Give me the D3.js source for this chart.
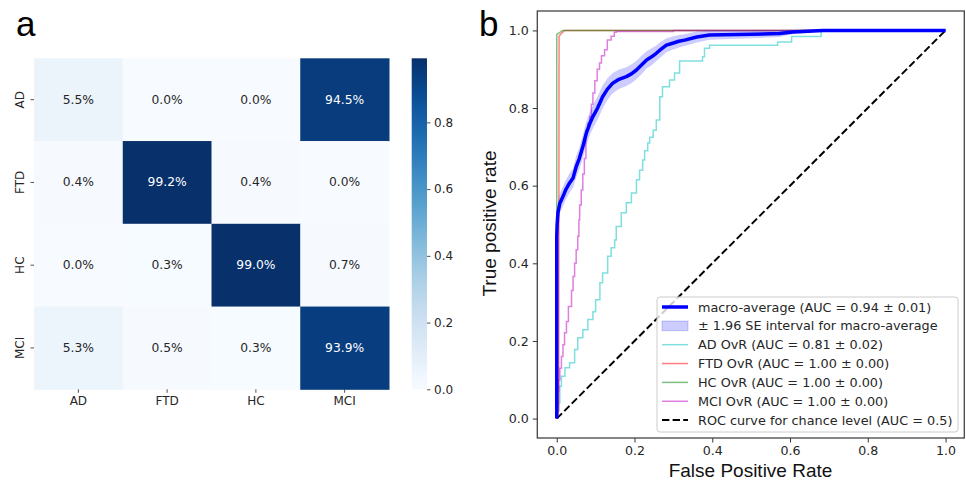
<!DOCTYPE html>
<html><head><meta charset="utf-8">
<script src="https://cdn.jsdelivr.net/npm/d3@7"></script>
<style>body{margin:0;background:#fff}svg{display:block}</style>
</head><body>
<svg id="c" width="966" height="482"></svg>
<script>
// ---------------- DATA ----------------
const classes = ["AD", "FTD", "HC", "MCI"];
const confusion = [
  [0.055, 0.000, 0.000, 0.945],
  [0.004, 0.992, 0.004, 0.000],
  [0.000, 0.003, 0.990, 0.007],
  [0.053, 0.005, 0.003, 0.939]
];
const colorbarTicks = [0.0, 0.2, 0.4, 0.6, 0.8];
const rocTicks = [0.0, 0.2, 0.4, 0.6, 0.8, 1.0];

// macro average: [fpr, tpr, half-width of SE band]
const macroCurve = [
  [0,0,0],[0,0.47,0.015],[0.001,0.5,0.02],[0.003,0.53,0.025],[0.008,0.555,0.025],
  [0.016,0.572,0.025],[0.023,0.589,0.025],[0.033,0.607,0.025],[0.042,0.62,0.025],
  [0.05,0.649,0.028],[0.058,0.67,0.028],[0.067,0.70,0.03],[0.076,0.735,0.03],
  [0.085,0.76,0.03],[0.093,0.778,0.03],[0.105,0.80,0.03],[0.118,0.829,0.03],
  [0.13,0.848,0.028],[0.144,0.864,0.026],[0.16,0.874,0.025],[0.179,0.881,0.024],
  [0.192,0.888,0.024],[0.205,0.898,0.024],[0.218,0.911,0.024],[0.231,0.924,0.022],
  [0.244,0.932,0.022],[0.256,0.941,0.02],[0.265,0.949,0.02],[0.282,0.962,0.018],
  [0.298,0.967,0.017],[0.314,0.972,0.016],[0.329,0.975,0.015],[0.36,0.983,0.014],
  [0.393,0.988,0.012],[0.5,0.99,0.01],[0.573,0.992,0.009],[0.607,0.996,0.006],
  [0.685,1,0.003],[1,1,0.003]
];
const adCurve = [
  [0,0],[0.005,0.02],[0.008,0.041],[0.012,0.083],[0.021,0.109],[0.033,0.131],
  [0.046,0.144],[0.054,0.178],[0.067,0.208],[0.08,0.229],[0.093,0.255],[0.1,0.275],
  [0.111,0.306],[0.118,0.35],[0.131,0.375],[0.14,0.418],[0.149,0.44],[0.153,0.46],
  [0.166,0.495],[0.179,0.53],[0.192,0.556],[0.205,0.581],[0.213,0.615],[0.221,0.64],
  [0.226,0.666],[0.234,0.69],[0.239,0.71],[0.248,0.725],[0.256,0.743],[0.265,0.769],
  [0.272,0.829],[0.29,0.855],[0.303,0.872],[0.316,0.89],[0.332,0.921],[0.375,0.921],
  [0.38,0.932],[0.393,0.954],[0.398,0.962],[0.568,0.962],[0.604,0.97],[0.68,0.984],
  [0.685,1],[1,1]
];
const ftdCurve = [[0,0],[0.005,0.02],[0.006,0.985],[0.01,0.99],[0.02,1],[1,1]];
const hcCurve = [[0,0],[0,0.99],[0.008,0.995],[0.015,1],[1,1]];
const mciCurve = [
  [0,0],[0.003,0.033],[0.005,0.07],[0.008,0.10],[0.012,0.13],[0.016,0.16],[0.02,0.19],
  [0.025,0.221],[0.03,0.25],[0.038,0.289],[0.042,0.33],[0.046,0.366],[0.05,0.4],
  [0.054,0.435],[0.057,0.47],[0.059,0.512],[0.063,0.55],[0.067,0.589],[0.071,0.63],
  [0.075,0.67],[0.08,0.743],[0.085,0.76],[0.089,0.778],[0.093,0.81],[0.098,0.839],
  [0.104,0.87],[0.11,0.9],[0.115,0.916],[0.123,0.935],[0.13,0.95],[0.14,0.975],
  [0.148,0.985],[0.153,0.995],[0.3,0.997],[0.33,1],[1,1]
];
const legendLabels = [
  "macro-average (AUC = 0.94 ± 0.01)",
  "± 1.96 SE interval for macro-average",
  "AD OvR (AUC = 0.81 ± 0.02)",
  "FTD OvR (AUC = 1.00 ± 0.00)",
  "HC OvR (AUC = 1.00 ± 0.00)",
  "MCI OvR (AUC = 1.00 ± 0.00)",
  "ROC curve for chance level (AUC = 0.5)"
];
const classColors = ["#00bfbf", "#ff0000", "#008000", "#bf00bf"];

// ---------------- DRAW ----------------
const svg = d3.select("#c");
const FONT = "DejaVu Sans, sans-serif";
const TXT = "#262626";

// Panel labels
svg.append("text").attr("x", 16).attr("y", 36).attr("font-family", "Liberation Sans, Arial, sans-serif")
  .attr("font-size", 35).attr("fill", "#000").text("a");
svg.append("text").attr("x", 479).attr("y", 36).attr("font-family", "Liberation Sans, Arial, sans-serif")
  .attr("font-size", 35).attr("fill", "#000").text("b");

// ---- Heatmap ----
const hm = {left: 34, right: 389, top: 58.3, bottom: 389.3};
const vmin = d3.min(confusion.flat()), vmax = d3.max(confusion.flat());
const color = d3.scaleSequential(d3.interpolateBlues).domain([vmin, vmax]);
const hx = d3.scaleBand().domain(classes).range([hm.left, hm.right]);
const hy = d3.scaleBand().domain(classes).range([hm.top, hm.bottom]);
const hg = svg.append("g");
function lum(c) {
  const r = d3.rgb(c);
  const f = v => { v /= 255; return v <= 0.03928 ? v / 12.92 : Math.pow((v + 0.055) / 1.055, 2.4); };
  return 0.2126 * f(r.r) + 0.7152 * f(r.g) + 0.0722 * f(r.b);
}
confusion.forEach((row, i) => row.forEach((v, j) => {
  const c = color(v);
  hg.append("rect").attr("x", hx(classes[j])).attr("y", hy(classes[i]))
    .attr("width", hx.bandwidth() + 0.5).attr("height", hy.bandwidth() + 0.5).attr("fill", c);
  hg.append("text").attr("x", hx(classes[j]) + hx.bandwidth() / 2).attr("y", hy(classes[i]) + hy.bandwidth() / 2)
    .attr("text-anchor", "middle").attr("dominant-baseline", "central")
    .attr("font-family", FONT).attr("font-size", 12.3)
    .attr("fill", lum(c) > 0.408 ? TXT : "#ffffff")
    .text((v * 100).toFixed(1) + "%");
}));
// x axis
const hxa = svg.append("g").attr("transform", `translate(0,${hm.bottom})`)
  .call(d3.axisBottom(hx).tickSize(3.5).tickPadding(3.5));
hxa.select(".domain").remove();
hxa.selectAll("line").attr("stroke", TXT).attr("stroke-width", 0.8);
hxa.selectAll("text").attr("font-family", FONT).attr("font-size", 12).attr("fill", TXT);
// y axis
const hya = svg.append("g").attr("transform", `translate(${hm.left},0)`)
  .call(d3.axisLeft(hy).tickSize(3.5).tickPadding(3.5));
hya.select(".domain").remove();
hya.selectAll("line").attr("stroke", TXT).attr("stroke-width", 0.8);
hya.selectAll("text").attr("font-family", FONT).attr("font-size", 12).attr("fill", TXT)
  .attr("text-anchor", "middle").attr("dy", null).attr("x", null)
  .attr("transform", "translate(-14,0) rotate(-90)").attr("dominant-baseline", "central");

// colorbar
const cb = {x: 411.7, w: 15.3, top: 58.3, bottom: 389.3};
const cy = d3.scaleLinear().domain([vmin, vmax]).range([cb.bottom, cb.top]);
const defs = svg.append("defs");
const grad = defs.append("linearGradient").attr("id", "cbg").attr("x1", 0).attr("x2", 0).attr("y1", 1).attr("y2", 0);
d3.range(0, 1.0001, 0.05).forEach(t => {
  grad.append("stop").attr("offset", t).attr("stop-color", color(vmin + t * (vmax - vmin)));
});
svg.append("rect").attr("x", cb.x).attr("y", cb.top).attr("width", cb.w).attr("height", cb.bottom - cb.top)
  .attr("fill", "url(#cbg)");
const cba = svg.append("g").attr("transform", `translate(${cb.x + cb.w},0)`)
  .call(d3.axisRight(cy).tickValues(colorbarTicks).tickFormat(d3.format(".1f")).tickSize(3.5).tickPadding(3.5));
cba.select(".domain").remove();
cba.selectAll("line").attr("stroke", TXT).attr("stroke-width", 0.8);
cba.selectAll("text").attr("font-family", FONT).attr("font-size", 12).attr("fill", TXT);

// ---- ROC ----
const ax = {left: 537.3, right: 965, top: 11, bottom: 438};
const x = d3.scaleLinear().domain([-0.05, 1.05]).range([ax.left, ax.right]);
const y = d3.scaleLinear().domain([-0.05, 1.05]).range([ax.bottom, ax.top]);
const rg = svg.append("g");
defs.append("clipPath").attr("id", "axclip").append("rect")
  .attr("x", ax.left).attr("y", ax.top).attr("width", ax.right - ax.left).attr("height", ax.bottom - ax.top);
const plot = rg.append("g").attr("clip-path", "url(#axclip)");

const stepLine = d3.line().x(d => x(d[0])).y(d => y(d[1])).curve(d3.curveStepBefore);
const linLine = d3.line().x(d => x(d[0])).y(d => y(d[1]));

// chance line
plot.append("path").datum([[0, 0], [1, 1]]).attr("d", linLine).attr("fill", "none")
  .attr("stroke", "#000").attr("stroke-width", 2).attr("stroke-dasharray", "7.4,3.2");

// class curves
const curves = [[adCurve, stepLine], [ftdCurve, linLine], [hcCurve, linLine], [mciCurve, stepLine]];
curves.forEach((c, i) => {
  plot.append("path").datum(c[0]).attr("d", c[1]).attr("fill", "none")
    .attr("stroke", classColors[i]).attr("stroke-opacity", 0.5).attr("stroke-width", 1.5);
});

// macro band + line
const band = d3.area().x(d => x(d[0])).y0(d => y(d[1] - d[2])).y1(d => y(d[1] + d[2]));
plot.append("path").datum(macroCurve).attr("d", band).attr("fill", "#0000ff").attr("fill-opacity", 0.2);
plot.append("path").datum(macroCurve).attr("d", linLine).attr("fill", "none")
  .attr("stroke", "#0000ff").attr("stroke-width", 3.5).attr("stroke-linejoin", "round");

// axes
const xa = rg.append("g").attr("transform", `translate(0,${ax.bottom})`)
  .call(d3.axisBottom(x).tickValues(rocTicks).tickFormat(d3.format(".1f")).tickSize(4.5).tickPadding(4));
const ya = rg.append("g").attr("transform", `translate(${ax.left},0)`)
  .call(d3.axisLeft(y).tickValues(rocTicks).tickFormat(d3.format(".1f")).tickSize(4.5).tickPadding(4));
[xa, ya].forEach(a => {
  a.select(".domain").remove();
  a.selectAll("line").attr("stroke", "#333").attr("stroke-width", 1);
  a.selectAll("text").attr("font-family", FONT).attr("font-size", 12.6).attr("fill", TXT);
});
rg.append("rect").attr("x", ax.left).attr("y", ax.top).attr("width", ax.right - ax.left - 0.7)
  .attr("height", ax.bottom - ax.top).attr("fill", "none").attr("stroke", "#444").attr("stroke-width", 1.3);

rg.append("text").attr("x", 750.5).attr("y", 477).attr("text-anchor", "middle")
  .attr("font-family", "Liberation Sans, Arial, sans-serif").attr("font-size", 19).attr("fill", "#111")
  .text("False Positive Rate");
rg.append("text").attr("transform", "translate(496,223.5) rotate(-90)").attr("text-anchor", "middle")
  .attr("font-family", "Liberation Sans, Arial, sans-serif").attr("font-size", 19).attr("fill", "#111")
  .text("True positive rate");

// legend
const lg = rg.append("g");
lg.append("rect").attr("x", 657).attr("y", 297).attr("width", 301).attr("height", 135).attr("rx", 3)
  .attr("fill", "#fff").attr("fill-opacity", 0.8).attr("stroke", "#cccccc").attr("stroke-width", 1);
const rowY = d3.range(legendLabels.length).map(i => 307 + i * 18.85);
legendLabels.forEach((t, i) => {
  const yy = rowY[i];
  if (i === 0) {
    lg.append("line").attr("x1", 662).attr("x2", 688).attr("y1", yy).attr("y2", yy)
      .attr("stroke", "#0000ff").attr("stroke-width", 3.5);
  } else if (i === 1) {
    lg.append("rect").attr("x", 662).attr("y", yy - 4.8).attr("width", 26).attr("height", 9.6)
      .attr("fill", "#0000ff").attr("fill-opacity", 0.2).attr("stroke", "#0000ff").attr("stroke-opacity", 0.2);
  } else if (i < 6) {
    lg.append("line").attr("x1", 662).attr("x2", 688).attr("y1", yy).attr("y2", yy)
      .attr("stroke", classColors[i - 2]).attr("stroke-opacity", 0.5).attr("stroke-width", 1.5);
  } else {
    lg.append("line").attr("x1", 662).attr("x2", 688).attr("y1", yy).attr("y2", yy)
      .attr("stroke", "#000").attr("stroke-width", 2).attr("stroke-dasharray", "7.4,3.2");
  }
  lg.append("text").attr("x", 698).attr("y", yy).attr("dominant-baseline", "central")
    .attr("font-family", FONT).attr("font-size", 12.8).attr("fill", TXT).text(t);
});
</script>
</body></html>
